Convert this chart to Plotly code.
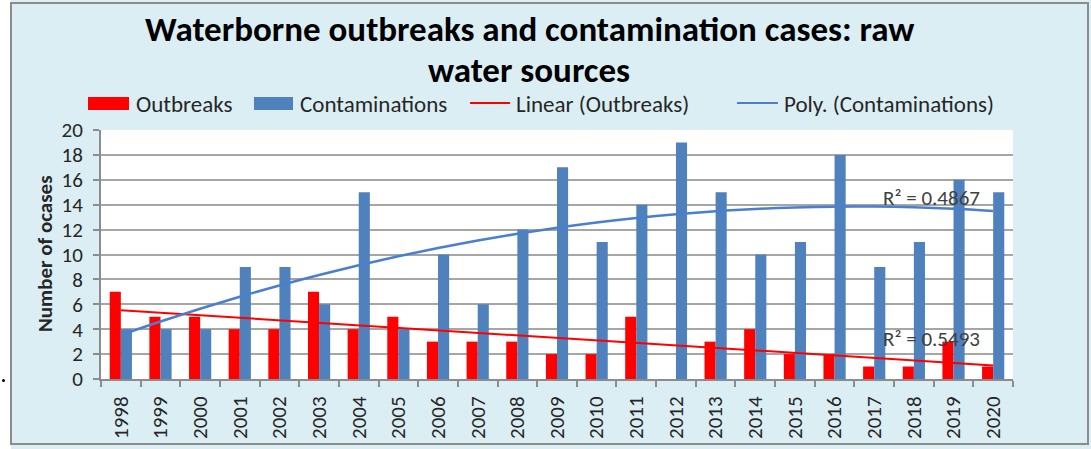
import numpy as np
import plotly.graph_objects as go

years = [str(y) for y in range(1998, 2021)]
outbreaks = [7, 5, 5, 4, 4, 7, 4, 5, 3, 3, 3, 2, 2, 5, 0, 3, 4, 2, 2, 1, 1, 3, 1]
contaminations = [4, 4, 4, 9, 9, 6, 15, 4, 10, 6, 12, 17, 11, 14, 19, 15, 10, 11, 18, 9, 11, 16, 15]
y_ticks = list(range(0, 21, 2))
r2_poly_label = "R² = 0.4867"
r2_lin_label = "R² = 0.5493"
title_lines = ["Waterborne outbreaks and contamination cases: raw", "water sources"]

RED = "#FF0000"
BLUE = "#4F81BD"
TREND_BLUE = "#4A7FD0"
BG = "#DBEEF4"
FONT = "Carlito, Lato, sans-serif"
TXT = "#262626"

W, H = 1091, 449
L, R, T, B = 101, 1013, 130, 379


def px(x):
    return (x - L) / (R - L)


def py(y):
    return (B - y) / (B - T)


# trendlines fitted to the data (Excel style)
idx = np.arange(1, len(years) + 1)
lin = np.polyval(np.polyfit(idx, outbreaks, 1), idx)
poly = np.polyval(np.polyfit(idx, contaminations, 2), idx)

fig = go.Figure()
fig.add_trace(go.Bar(x=years, y=outbreaks, name="Outbreaks", marker_color=RED,
                     marker_line_width=0))
fig.add_trace(go.Bar(x=years, y=contaminations, name="Contaminations", marker_color=BLUE,
                     marker_line_width=0))
fig.add_trace(go.Scatter(x=years, y=lin, mode="lines", name="Linear (Outbreaks)",
                         line=dict(color=RED, width=2)))
fig.add_trace(go.Scatter(x=years, y=poly, mode="lines", name="Poly. (Contaminations)",
                         line=dict(color=TREND_BLUE, width=2.5, shape="spline")))

shapes = []
annotations = []

# frame
shapes.append(dict(type="rect", xref="paper", yref="paper", x0=px(0), x1=px(11), y0=py(449), y1=py(0),
                   fillcolor="white", line_width=0, layer="below"))
shapes.append(dict(type="rect", xref="paper", yref="paper", x0=px(11), x1=px(1088), y0=py(444), y1=py(3),
                   fillcolor="rgba(0,0,0,0)", line=dict(color="#8C8C8C", width=2), layer="above"))
shapes.append(dict(type="circle", xref="paper", yref="paper", x0=px(2), x1=px(5), y0=py(382), y1=py(379),
                   fillcolor="black", line_width=0))

# title
for text, yc in zip(title_lines, [29, 70]):
    annotations.append(dict(xref="paper", yref="paper", x=px(529), y=py(yc), text="<b>" + text + "</b>",
                            showarrow=False, xanchor="center", yanchor="middle",
                            font=dict(family=FONT, size=35, color="black")))

# legend (manual, Excel-like swatches)
leg_y = 104
items = [
    ("rect", RED, 88, 129, "Outbreaks", 134),
    ("rect", BLUE, 254, 293, "Contaminations", 298),
    ("line", RED, 470, 510, "Linear (Outbreaks)", 514),
    ("line", TREND_BLUE, 737, 778, "Poly. (Contaminations)", 782),
]
for kind, col, x0, x1, label, tx in items:
    if kind == "rect":
        shapes.append(dict(type="rect", xref="paper", yref="paper", x0=px(x0), x1=px(x1),
                           y0=py(110), y1=py(97), fillcolor=col, line_width=0))
    else:
        shapes.append(dict(type="line", xref="paper", yref="paper", x0=px(x0), x1=px(x1),
                           y0=py(103), y1=py(103), line=dict(color=col, width=2)))
    annotations.append(dict(xref="paper", yref="paper", x=px(tx), y=py(leg_y), text=label,
                            showarrow=False, xanchor="left", yanchor="middle",
                            font=dict(family=FONT, size=23, color=TXT)))

# R² labels
annotations.append(dict(xref="paper", yref="paper", x=px(881), y=py(198), text=r2_poly_label,
                        showarrow=False, xanchor="left", yanchor="middle",
                        font=dict(family=FONT, size=21, color="#404040")))
annotations.append(dict(xref="paper", yref="paper", x=px(881), y=py(339), text=r2_lin_label,
                        showarrow=False, xanchor="left", yanchor="middle",
                        font=dict(family=FONT, size=21, color="#404040")))

# y axis title
annotations.append(dict(xref="paper", yref="paper", x=px(45), y=py(254), text="<b>Number of ocases</b>",
                        showarrow=False, textangle=-90, xanchor="center", yanchor="middle",
                        font=dict(family=FONT, size=21, color=TXT)))

fig.update_layout(
    width=W, height=H,
    margin=dict(l=L, r=W - R, t=T, b=H - B, pad=0, autoexpand=False),
    paper_bgcolor=BG, plot_bgcolor="white",
    barmode="group", bargap=0.44, bargroupgap=0,
    showlegend=False,
    shapes=shapes, annotations=annotations,
    font=dict(family=FONT, color=TXT),
)
fig.update_xaxes(type="category", tickangle=-90, tickfont=dict(size=21, color=TXT),
                 showline=True, linecolor="#8C8C8C", linewidth=2, automargin=False,
                 ticks="outside", tickson="boundaries", ticklen=6, tickcolor="#8C8C8C", tickwidth=2,
                 ticklabelstandoff=7, showgrid=False)
fig.update_yaxes(range=[0, 20], tickvals=y_ticks, tickfont=dict(size=21, color=TXT),
                 showline=True, linecolor="#8C8C8C", linewidth=2, automargin=False,
                 ticks="outside", ticklen=6, tickcolor="#8C8C8C", tickwidth=2,
                 ticklabelstandoff=6, gridcolor="#A6A6A6", gridwidth=2, zeroline=False)

fig.write_html("out.html")
